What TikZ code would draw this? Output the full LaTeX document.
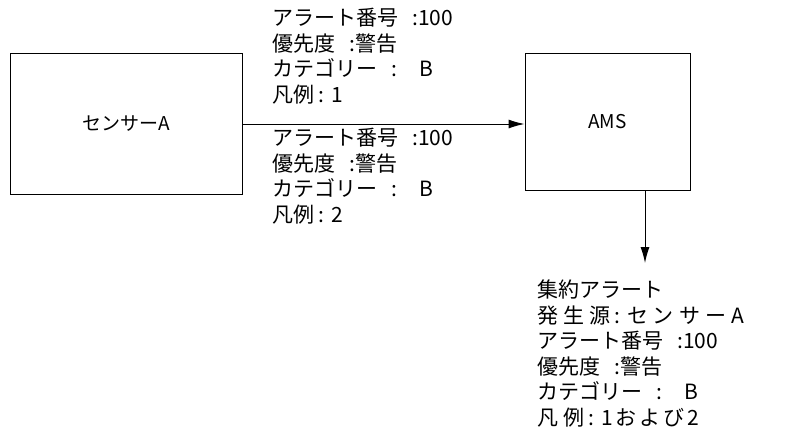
\documentclass[tikz,border=0pt]{standalone}
\usepackage{fontspec}
\setmainfont{Noto Sans CJK JP}
\usetikzlibrary{arrows.meta}
\newcommand{\gp}[1]{\hbox to #1{}}
\begin{document}
\begin{tikzpicture}[x=1pt,y=-1pt,
  box/.style={draw,line width=1pt,inner sep=0},
  arr/.style={line width=1pt,-{Latex[length=16pt,width=9pt]}},
  lbl/.style={anchor=north west,align=left,font=\fontsize{21}{25.5}\selectfont,inner sep=0}]
\useasboundingbox (0,0) rectangle (801,445);
\node[box,minimum width=232,minimum height=141] (s) at (126,123.5) {\fontsize{19}{20}\selectfont センサーA};
\node[box,minimum width=165,minimum height=137] (a) at (607.5,121.5) {\fontsize{19}{20}\selectfont AMS};
\draw[arr] (s.east|-0,124) -- (a.west|-0,124);
\coordinate (d) at (645,263);
\draw[arr] (a.south-|d) -- (d);
\node[lbl] (t1) at (272,8) {アラート番号\gp{14pt}:100\\優先度\gp{14pt}:警告\\カテゴリー\gp{14pt}:\gp{22pt}B\\凡例 : 1};
\node[lbl] (t2) at (272,128) {アラート番号\gp{14pt}:100\\優先度\gp{14pt}:警告\\カテゴリー\gp{14pt}:\gp{22pt}B\\凡例 : 2};
\node[lbl] (t3) at (537,280) {集約アラート\\発\gp{5pt}生\gp{5pt}源 : セ\gp{5pt}ン\gp{5pt}サ\gp{5pt}ー\gp{5pt}A\\アラート番号\gp{14pt}:100\\優先度\gp{14pt}:警告\\カテゴリー\gp{14pt}:\gp{22pt}B\\凡\gp{5pt}例 : 1\gp{3pt}お\gp{3pt}よ\gp{3pt}び\gp{3pt}2};
\end{tikzpicture}
\end{document}
